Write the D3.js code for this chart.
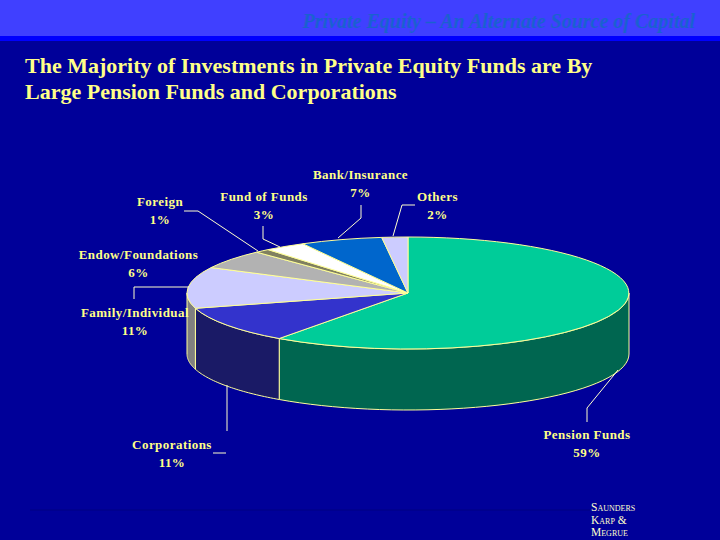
<!DOCTYPE html>
<html><head><meta charset="utf-8">
<style>html,body{margin:0;padding:0;background:#000099}svg{display:block}text{font-family:"Liberation Serif",serif}</style>
<script src="https://cdnjs.cloudflare.com/ajax/libs/d3/7.8.5/d3.min.js"></script>
</head><body><svg id="c" width="720" height="540"></svg>
<script>
const categories = ["Pension Funds","Corporations","Family/Individual","Endow/Foundations","Foreign","Fund of Funds","Bank/Insurance","Others"];
const labelPercents = [59,11,11,6,1,3,7,2];
const drawnShares = [59.9,10.7,11.9,5.5,1.1,3.0,6.0,1.9];
const topColors = ["#00cc99","#3333cc","#ccccff","#b2b2b2","#808060","#ffffff","#0066cc","#ccccff"];
const wallColors = ["#006650","#1a1a66","#808080","#666666","#666644","#999999","#003366","#666680"];
const titleLines = ["The Majority of Investments in Private Equity Funds are By","Large Pension Funds and Corporations"];
const headerText = "Private Equity \u2013 An Alternate Source of Capital";
const firmLines = ["Saunders","Karp &","Megrue"];

const svg = d3.select("#c");
const cx=408, cy=293, rx=221, ry=56, depth=61;
const lineCol="#ffff99", textCol="#ffff88";
svg.append("rect").attr("width",720).attr("height",540).attr("fill","#000099");
svg.append("rect").attr("width",720).attr("height",36).attr("fill","#4040ff");
svg.append("rect").attr("y",36).attr("width",720).attr("height",5).attr("fill","#0000ff");
svg.append("text").attr("x",695).attr("y",28).attr("text-anchor","end").attr("font-size",20)
  .attr("font-style","italic").attr("font-weight","bold").attr("fill","#1a60d0").text(headerText);
svg.selectAll(".title").data(titleLines).join("text").attr("x",25).attr("y",(d,i)=>73+i*26)
  .attr("font-size",22).attr("font-weight","bold").attr("fill",textCol).text(d=>d);
svg.append("line").attr("x1",30).attr("x2",590).attr("y1",510).attr("y2",510).attr("stroke","#00008a").attr("stroke-width",1.5);

const pie=d3.pie().value(d=>d).sort(null);
const arcs=pie(drawnShares);
const pt=(t,dy=0)=>[cx+rx*Math.sin(t),cy-ry*Math.cos(t)+dy];
const lo=Math.PI/2, hi=3*Math.PI/2;
const line=d3.line();
const walls=svg.append("g");
arcs.forEach((a,i)=>{
  const s=Math.max(a.startAngle,lo), e=Math.min(a.endAngle,hi);
  if(e<=s) return;
  const ts=d3.range(0,41).map(k=>s+(e-s)*k/40);
  const top=ts.map(t=>pt(t)), bot=ts.map(t=>pt(t,depth)).reverse();
  walls.append("path").attr("d",line(top.concat(bot))+"Z").attr("fill",wallColors[i])
    .attr("stroke",lineCol).attr("stroke-width",1);
});
const arc=d3.arc().innerRadius(0).outerRadius(1);
const g=svg.append("g").attr("transform",`translate(${cx},${cy}) scale(${rx},${ry})`);
g.selectAll("path").data(arcs).join("path").attr("d",arc).attr("fill",(d,i)=>topColors[i])
  .attr("stroke",lineCol).attr("stroke-width",1).attr("vector-effect","non-scaling-stroke");

const labelAt=[[587,435],[172,445],[135,313],[138.5,255],[160,202],[264,197],[360.5,175],[437.5,197]];
const leaders=[
 [[618,370],[587,408],[587,422]],
 [[227,385],[227,431]],
 [[134,299],[134,287],[189,287]],
 null,
 [[184,211],[198,211],[258,251]],
 [[263,226],[263,239],[280,247]],
 [[361,205],[361,218],[338,238]],
 [[415,205],[402,205],[393,236]]
];
const extra=[[[213,453],[226,453]]];
leaders.concat(extra).filter(Boolean).forEach(p=>svg.append("path").attr("d",line(p)).attr("fill","none").attr("stroke","#ffffcc").attr("stroke-width",1));
categories.forEach((c,i)=>{
  const t=svg.append("text").attr("text-anchor","middle").attr("font-size",13).attr("font-weight","bold")
    .attr("letter-spacing",0.45).attr("fill",textCol);
  t.append("tspan").attr("x",labelAt[i][0]).attr("y",labelAt[i][1]+4).text(c);
  t.append("tspan").attr("x",labelAt[i][0]).attr("dy",18).text(labelPercents[i]+"%");
});
svg.selectAll(".firm").data(firmLines).join("text").attr("x",591).attr("y",(d,i)=>511+i*12.5)
  .attr("font-size",11.5).attr("font-variant","small-caps").attr("fill","#ffffcc").text(d=>d);
</script></body></html>
